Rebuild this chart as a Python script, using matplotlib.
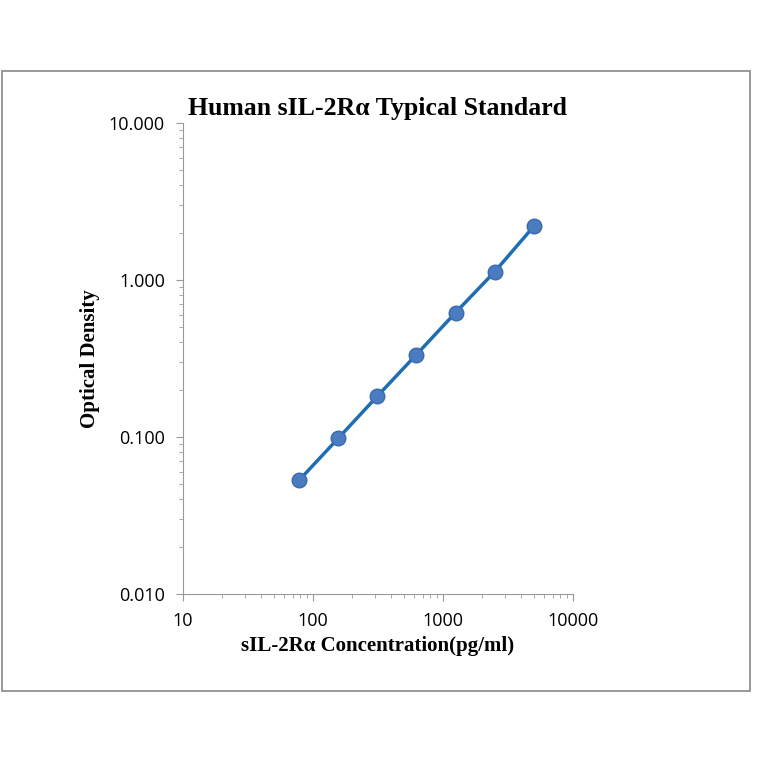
import matplotlib.pyplot as plt
from matplotlib.patches import Rectangle
from matplotlib.ticker import FixedLocator, FixedFormatter, LogLocator, NullFormatter

conc = [78.125, 156.25, 312.5, 625, 1250, 2500, 5000]
od = [0.053, 0.098, 0.182, 0.335, 0.62, 1.13, 2.2]
xticks = [10, 100, 1000, 10000]
xlabels = ['10', '100', '1000', '10000']
yticks = [0.01, 0.1, 1, 10]
ylabels = ['0.010', '0.100', '1.000', '10.000']

fig = plt.figure(figsize=(7.64, 7.64), dpi=100)
fig.patches.append(Rectangle((0.0026, 0.0955), 0.979, 0.8115, transform=fig.transFigure,
                             fill=False, edgecolor='#888888', linewidth=1.2))
ax = fig.add_axes([0.2395, 0.2225, 0.5105, 0.6165])
ax.plot(conc, od, color='#1f6eb4', linewidth=2.5, zorder=2)
ax.scatter(conc, od, s=110, color='#4a7cc0', edgecolor='#3a6aae', zorder=3)
ax.set_xscale('log')
ax.set_yscale('log')
ax.set_xlim(10, 10000)
ax.set_ylim(0.01, 10)
ax.xaxis.set_major_locator(FixedLocator(xticks))
ax.xaxis.set_major_formatter(FixedFormatter(xlabels))
ax.yaxis.set_major_locator(FixedLocator(yticks))
ax.yaxis.set_major_formatter(FixedFormatter(ylabels))
ax.xaxis.set_minor_locator(LogLocator(base=10, subs=range(2, 10)))
ax.yaxis.set_minor_locator(LogLocator(base=10, subs=range(2, 10)))
ax.xaxis.set_minor_formatter(NullFormatter())
ax.yaxis.set_minor_formatter(NullFormatter())
for s in ['top', 'right']:
    ax.spines[s].set_visible(False)
for s in ['left', 'bottom']:
    ax.spines[s].set_color('#999999')
ax.tick_params(which='both', color='#999999', direction='out')
ax.tick_params(which='major', length=5, labelsize=13, pad=8)
ax.tick_params(which='minor', length=3)
for lab in ax.get_xticklabels() + ax.get_yticklabels():
    lab.set_family('Open Sans')
ax.set_title('Human sIL-2R\u03b1 Typical Standard', family='Liberation Serif',
             fontweight='bold', fontsize=18.5, pad=6)
ax.set_xlabel('sIL-2R\u03b1 Concentration(pg/ml)', family='Liberation Serif',
              fontweight='bold', fontsize=15, labelpad=4)
ax.set_ylabel('Optical Density', family='Liberation Serif', fontweight='bold',
              fontsize=15, labelpad=6)
fig.savefig('out.png', dpi=100)
